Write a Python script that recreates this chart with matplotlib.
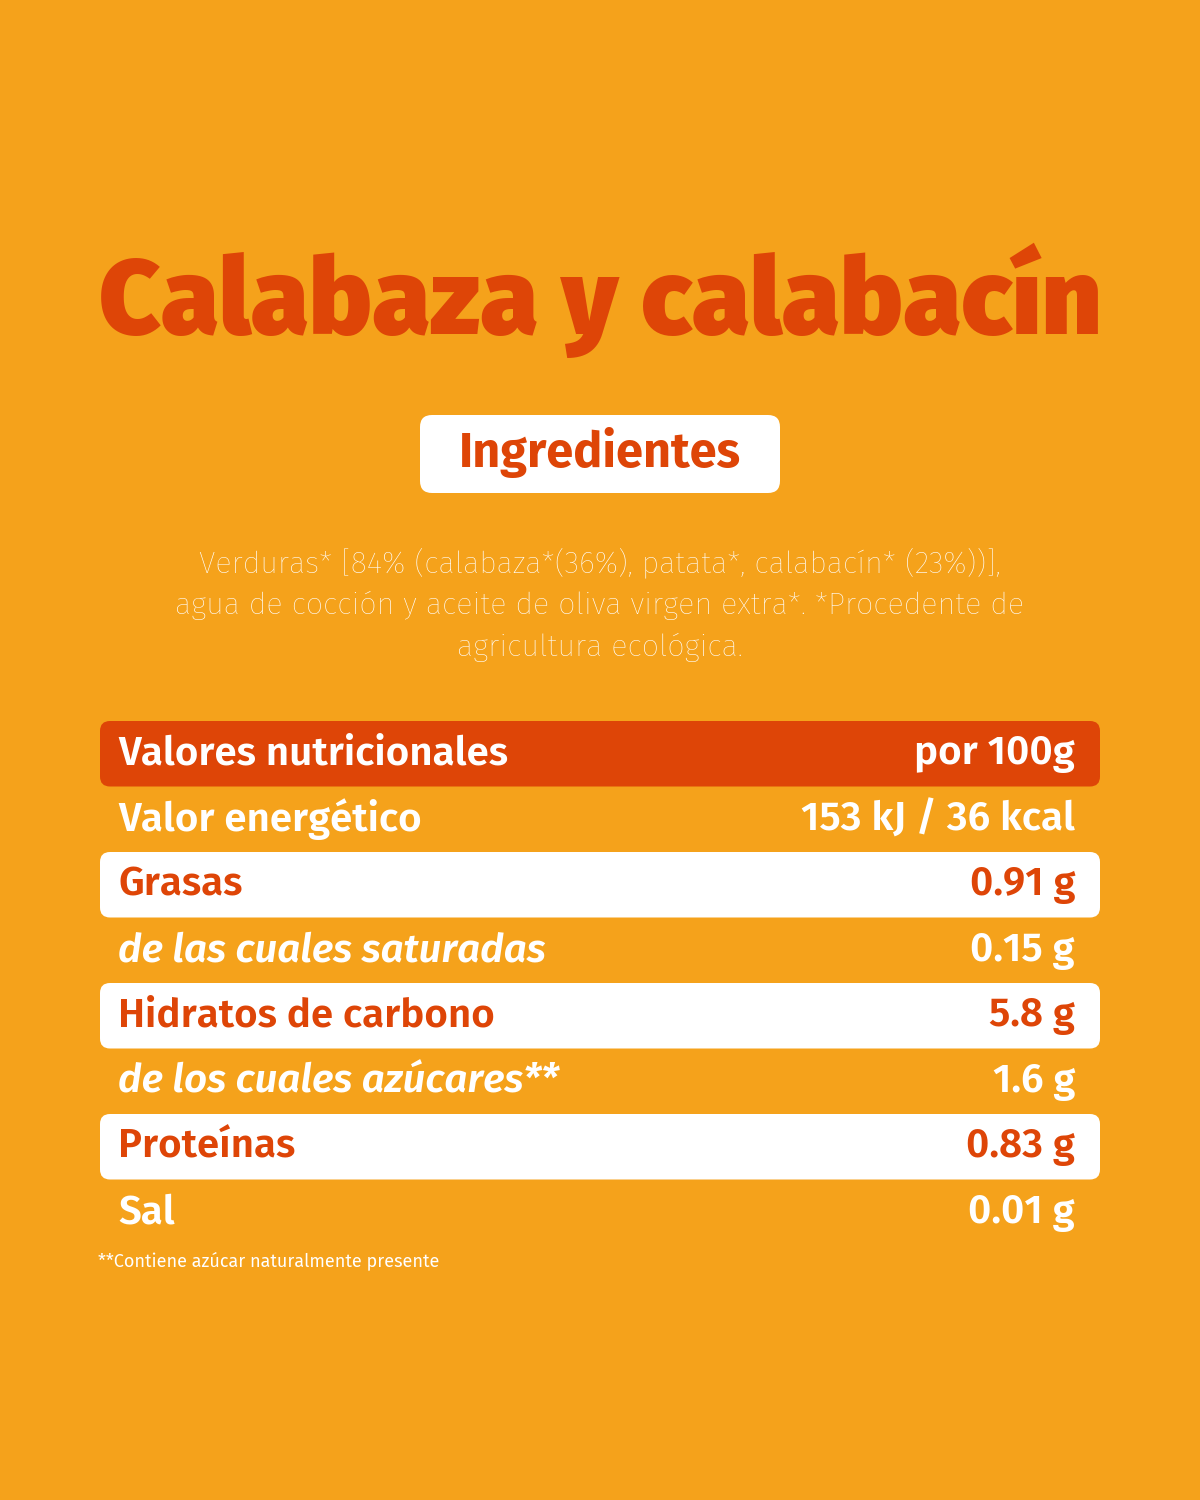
import matplotlib
matplotlib.use("Agg")
import matplotlib.pyplot as plt
from matplotlib.patches import FancyBboxPatch

BG = "#F5A21B"
RED = "#DE4507"
WHITE = "#FFFFFF"

title = "Calabaza y calabacín"
ing_title = "Ingredientes"
ing_lines = ["Verduras* [84% (calabaza*(36%), patata*, calabacín* (23%))],",
             "agua de cocción y aceite de oliva virgen extra*. *Procedente de",
             "agricultura ecológica."]
header = ["Valores nutricionales", "por 100g"]
labels = ["Valor energético", "Grasas", "de las cuales saturadas", "Hidratos de carbono",
          "de los cuales azúcares**", "Proteínas", "Sal"]
values = ["153 kJ / 36 kcal", "0.91 g", "0.15 g", "5.8 g", "1.6 g", "0.83 g", "0.01 g"]
italic = [False, False, True, False, True, False, False]
highlight = [False, True, False, True, False, True, False]
footnote = "**Contiene azúcar naturalmente presente"

FONT = ["Fira Sans", "Roboto", "DejaVu Sans"]
fig = plt.figure(figsize=(12, 15), dpi=100, facecolor=BG)
ax = fig.add_axes([0, 0, 1, 1])
ax.set_xlim(0, 1200); ax.set_ylim(1500, 0); ax.axis("off"); ax.set_facecolor(BG)

ax.text(600, 300, title, ha="center", va="center", fontsize=76, fontweight="black",
        color=RED, family=FONT)
ax.add_patch(FancyBboxPatch((420, 415), 360, 78, boxstyle="round,pad=0,rounding_size=12",
                            fc=WHITE, ec="none"))
ax.text(600, 453, ing_title, ha="center", va="center", fontsize=35, fontweight="bold",
        color=RED, family=FONT)
for i, line in enumerate(ing_lines):
    ax.text(600, 563 + 42 * i, line, ha="center", va="center", fontsize=22,
            fontweight="light", color=WHITE, family=FONT)

top = 721; h = 65.5
ax.add_patch(FancyBboxPatch((100, top), 1000, h, boxstyle="round,pad=0,rounding_size=10",
                            fc=RED, ec="none"))
ax.text(118, top + h / 2, header[0], ha="left", va="center", fontsize=29,
        fontweight="semibold", color=WHITE, family=FONT)
ax.text(1075, top + h / 2, header[1], ha="right", va="center", fontsize=29,
        fontweight="semibold", color=WHITE, family=FONT)
for i, (lab, val) in enumerate(zip(labels, values)):
    y0 = top + h * (i + 1)
    col = WHITE
    if highlight[i]:
        ax.add_patch(FancyBboxPatch((100, y0), 1000, h, boxstyle="round,pad=0,rounding_size=10",
                                    fc=WHITE, ec="none"))
        col = RED
    ax.text(118, y0 + h / 2, lab, ha="left", va="center", fontsize=29,
            fontweight="semibold", style="italic" if italic[i] else "normal",
            color=col, family=FONT)
    ax.text(1075, y0 + h / 2, val, ha="right", va="center", fontsize=29,
            fontweight="semibold", color=col, family=FONT)
ax.text(98, 1261, footnote, ha="left", va="center", fontsize=13, color=WHITE, family=FONT)

fig.savefig("out.png", dpi=100, facecolor=BG)
